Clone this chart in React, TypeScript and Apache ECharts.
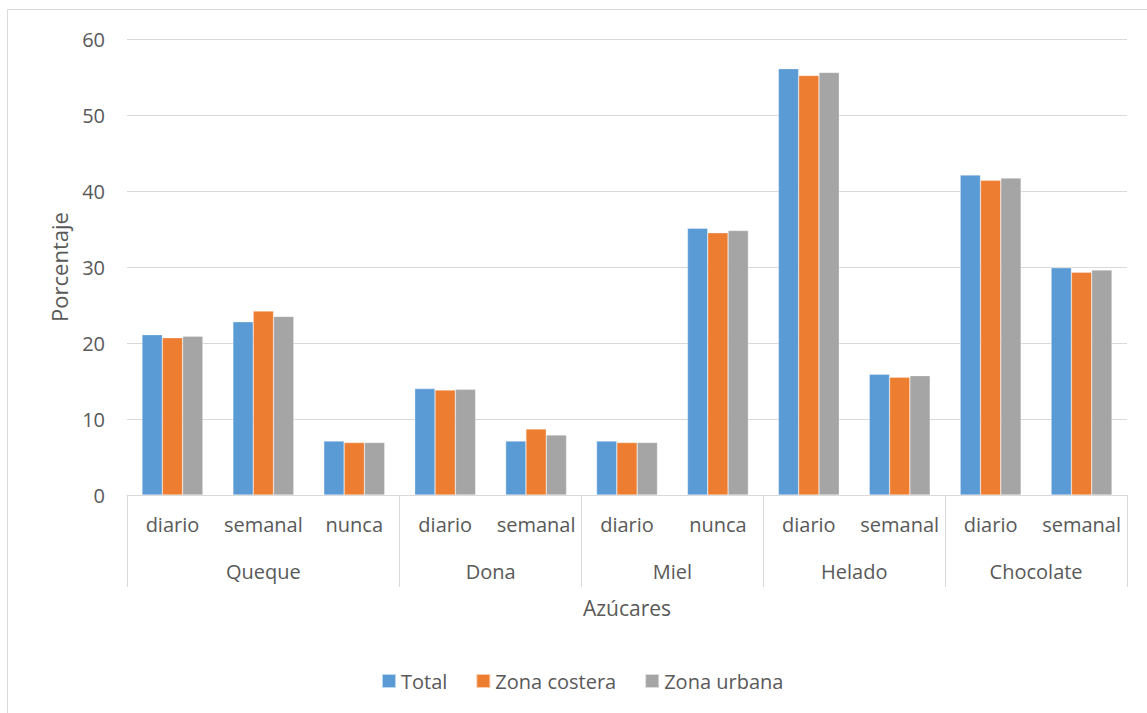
import React, { useEffect, useRef } from "react";
import * as echarts from "echarts";

const subLabels = ["diario", "semanal", "nunca", "diario", "semanal", "diario", "nunca", "diario", "semanal", "diario", "semanal"];
const groups = ["Queque", "Dona", "Miel", "Helado", "Chocolate"];
const groupSizes = [3, 2, 2, 2, 2];
const seriesNames = ["Total", "Zona costera", "Zona urbana"];
const total = [21.1, 22.8, 7.1, 14.0, 7.1, 7.1, 35.1, 56.1, 15.9, 42.1, 29.9];
const costera = [20.7, 24.2, 6.9, 13.8, 8.7, 6.9, 34.5, 55.2, 15.5, 41.4, 29.3];
const urbana = [20.9, 23.5, 6.9, 13.9, 7.9, 6.9, 34.8, 55.6, 15.7, 41.7, 29.6];
const yTicks = [0, 10, 20, 30, 40, 50, 60];

const colors = ["#5B9BD5", "#ED7D31", "#A5A5A5"];
const FONT = "'Open Sans', 'Noto Sans', sans-serif";
const TEXT = "#595959";
const LINE = "#D9D9D9";

export default function App() {
  const ref = useRef<HTMLDivElement>(null);
  useEffect(() => {
    document.body.style.margin = "0";
    const chart = echarts.init(ref.current!, null, { renderer: "svg" });
    const boundaries: number[] = [0];
    groupSizes.forEach((s) => boundaries.push(boundaries[boundaries.length - 1] + s));
    const centers = groupSizes.map((s, i) => boundaries[i] + s / 2);
    const data = [total, costera, urbana];
    chart.setOption({
      animation: false,
      textStyle: { fontFamily: FONT, color: TEXT },
      graphic: [
        {
          type: "rect",
          shape: { x: 7.5, y: 9.5, width: 1150, height: 720 },
          style: { fill: "none", stroke: LINE, lineWidth: 1 },
          silent: true,
        },
      ],
      grid: { left: 127, right: 20, top: 39, bottom: 218, containLabel: false },
      legend: {
        data: seriesNames,
        left: 376,
        top: 666,
        itemWidth: 14,
        itemHeight: 14,
        itemGap: 28,
        icon: "rect",
        textStyle: { fontFamily: FONT, fontSize: 20, color: TEXT },
      },
      xAxis: [
        {
          type: "category",
          data: subLabels,
          position: "bottom",
          axisLine: { show: true, lineStyle: { color: LINE, width: 1 } },
          axisTick: { show: false },
          axisLabel: { fontFamily: FONT, fontSize: 20, color: TEXT, margin: 19, interval: 0 },
          splitLine: { show: false },
        },
        {
          type: "value",
          min: 0,
          max: boundaries[boundaries.length - 1],
          position: "bottom",
          axisLine: { show: false },
          splitLine: { show: false },
          axisTick: {
            show: true,
            customValues: boundaries,
            length: 92,
            lineStyle: { color: LINE, width: 1 },
          },
          axisLabel: {
            customValues: centers,
            formatter: (v: number) => groups[centers.indexOf(v)] ?? "",
            fontFamily: FONT,
            fontSize: 20,
            color: TEXT,
            margin: 66,
          },
          name: "Azúcares",
          nameLocation: "middle",
          nameGap: 102,
          nameTextStyle: { fontFamily: FONT, fontSize: 21, color: TEXT },
        },
      ],
      yAxis: {
        type: "value",
        min: yTicks[0],
        max: yTicks[yTicks.length - 1],
        interval: 10,
        axisLine: { show: false },
        axisTick: { show: false },
        axisLabel: { fontFamily: FONT, fontSize: 20, color: TEXT, margin: 22 },
        splitLine: { lineStyle: { color: LINE, width: 1 } },
        name: "Porcentaje",
        nameLocation: "middle",
        nameGap: 57,
        nameTextStyle: { fontFamily: FONT, fontSize: 22, color: TEXT },
      },
      series: seriesNames.map((name, i) => ({
        name,
        type: "bar",
        xAxisIndex: 0,
        data: data[i],
        barGap: "0%",
        barCategoryGap: "33%",
        itemStyle: { color: colors[i], borderColor: "rgba(255,255,255,0.6)", borderWidth: 0.5 },
      })),
    });
    return () => chart.dispose();
  }, []);
  return <div ref={ref} style={{ width: 1147, height: 713 }} />;
}
